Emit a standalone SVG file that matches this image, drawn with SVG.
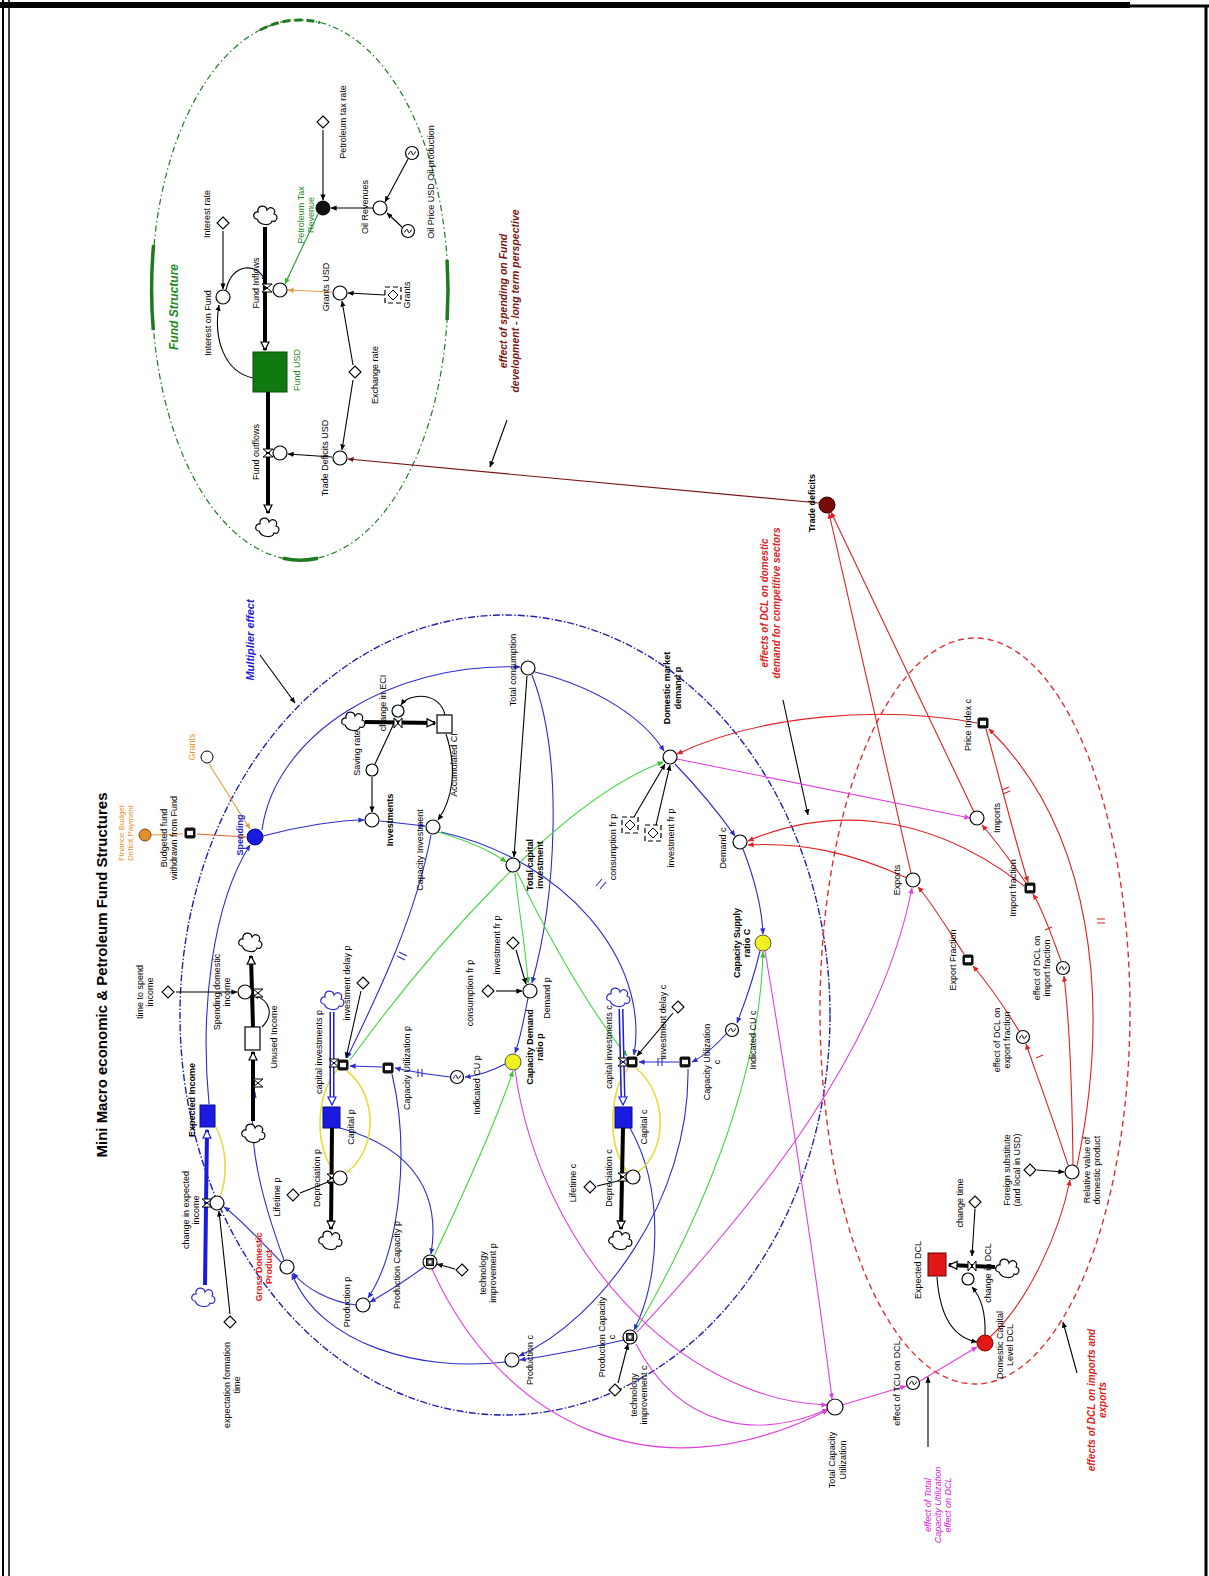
<svg xmlns="http://www.w3.org/2000/svg" xmlns:xlink="http://www.w3.org/1999/xlink" width="1209" height="1576" viewBox="0 0 1209 1576">
<style>
.t{font-family:"Liberation Sans",Arial,sans-serif;font-size:9px;fill:#000;text-anchor:middle}
.b{font-weight:bold}
.i{font-style:italic}
.lk{fill:none;stroke-width:1.1}
.k{stroke:#000}.bl{stroke:#2b2bd0}.rd{stroke:#e02020}.gr{stroke:#44d844}.mg{stroke:#e040e0}.yl{stroke:#e6dc3c;stroke-width:1.6}.or{stroke:#e89a40}.dr{stroke:#7a1414}
.pipe{fill:none;stroke:#000;stroke-width:4}
</style>
<defs>
<marker id="ak" viewBox="0 0 8 8" refX="7.5" refY="4" markerWidth="6" markerHeight="6" markerUnits="userSpaceOnUse" orient="auto"><path d="M0,0.5 L8,4 L0,7.5Z" fill="#000"/></marker>
<marker id="ab" viewBox="0 0 8 8" refX="7.5" refY="4" markerWidth="6" markerHeight="6" markerUnits="userSpaceOnUse" orient="auto"><path d="M0,0.5 L8,4 L0,7.5Z" fill="#2b2bd0"/></marker>
<marker id="ar" viewBox="0 0 8 8" refX="7.5" refY="4" markerWidth="6" markerHeight="6" markerUnits="userSpaceOnUse" orient="auto"><path d="M0,0.5 L8,4 L0,7.5Z" fill="#e02020"/></marker>
<marker id="ag" viewBox="0 0 8 8" refX="7.5" refY="4" markerWidth="6" markerHeight="6" markerUnits="userSpaceOnUse" orient="auto"><path d="M0,0.5 L8,4 L0,7.5Z" fill="#30c030"/></marker>
<marker id="am" viewBox="0 0 8 8" refX="7.5" refY="4" markerWidth="6" markerHeight="6" markerUnits="userSpaceOnUse" orient="auto"><path d="M0,0.5 L8,4 L0,7.5Z" fill="#e040e0"/></marker>
<marker id="ao" viewBox="0 0 8 8" refX="7.5" refY="4" markerWidth="6" markerHeight="6" markerUnits="userSpaceOnUse" orient="auto"><path d="M0,0.5 L8,4 L0,7.5Z" fill="#e89a40"/></marker>
<marker id="ad" viewBox="0 0 8 8" refX="7.5" refY="4" markerWidth="6" markerHeight="6" markerUnits="userSpaceOnUse" orient="auto"><path d="M0,0.5 L8,4 L0,7.5Z" fill="#7a1414"/></marker>
<marker id="ap" viewBox="0 0 10 10" refX="9" refY="5" markerWidth="10" markerHeight="10" markerUnits="userSpaceOnUse" orient="auto"><path d="M1,1 L9,5 L1,9Z" fill="#fff" stroke="#000" stroke-width="1.2"/></marker>
<marker id="apb" viewBox="0 0 10 10" refX="9" refY="5" markerWidth="10" markerHeight="10" markerUnits="userSpaceOnUse" orient="auto"><path d="M1,1 L9,5 L1,9Z" fill="#fff" stroke="#1a1ae0" stroke-width="1.2"/></marker>
<g id="cloud"><path d="M-8,4 C-13,4 -12,-4 -7,-3 C-8,-10 1,-11 2,-5 C5,-10 12,-6 9,-1 C14,0 12,8 7,6 C6,11 -5,11 -8,4Z" fill="#fff" stroke="#000" stroke-width="1.2"/></g>
<g id="cloudb"><path d="M-8,4 C-13,4 -12,-4 -7,-3 C-8,-10 1,-11 2,-5 C5,-10 12,-6 9,-1 C14,0 12,8 7,6 C6,11 -5,11 -8,4Z" fill="#fff" stroke="#2b2bd0" stroke-width="1.2"/></g>
<g id="valv"><path d="M-5,-4 L5,-4 L-5,4 L5,4Z" fill="#fff" stroke="#000" stroke-width="1"/></g>
<g id="valh"><path d="M-4,-5 L-4,5 L4,-5 L4,5Z" fill="#fff" stroke="#000" stroke-width="1"/></g>
<g id="dia"><path d="M0,-6 L6,0 L0,6 L-6,0Z" fill="#fff" stroke="#000" stroke-width="1.1"/></g>
<g id="aux"><circle r="7" fill="#fff" stroke="#000" stroke-width="1.2"/></g>
<g id="tilde"><circle r="6.5" fill="#fff" stroke="#000" stroke-width="1.2"/><path d="M-3.5,1.5 C-2,-3 0,-2 0,0 C0,2 2,3 3.5,-1.5" fill="none" stroke="#000" stroke-width="1"/></g>
<g id="conv"><rect x="-5.5" y="-5.5" width="11" height="11" rx="2" fill="#111"/><rect x="-3" y="-2.2" width="6" height="4.4" fill="#fff"/></g>
<g id="pcap"><circle r="7" fill="#fff" stroke="#000" stroke-width="1.2"/><rect x="-3.5" y="-3.5" width="7" height="7" fill="#444" stroke="#000"/><rect x="-1.5" y="-1.5" width="3" height="3" fill="#fff"/></g>
<g id="ghost"><rect x="-8" y="-8" width="16" height="16" fill="#fff" stroke="#000" stroke-width="1.2" stroke-dasharray="5 3"/><path d="M0,-5 L5,0 L0,5 L-5,0Z" fill="#fff" stroke="#000" stroke-width="1"/></g>
</defs>
<rect width="1209" height="1576" fill="#fff"/>
<g id="frame" stroke="#000" fill="none">
<line x1="0" y1="5" x2="1130" y2="5" stroke-width="6"/>
<line x1="1128" y1="6" x2="1209" y2="6" stroke-width="3"/>
<line x1="1206" y1="5" x2="1206" y2="1576" stroke-width="3"/>
<line x1="3" y1="0" x2="3" y2="1576" stroke-width="2"/>
<line x1="9" y1="0" x2="9" y2="1576" stroke-width="1.5"/>
</g>

<g id="boundaries" fill="none">
<ellipse cx="300" cy="290" rx="148" ry="270" stroke="#1f7a1f" stroke-width="1.2" stroke-dasharray="6 3 1.5 3"/>
<path d="M153.6,245 A148,270 0 0 0 153.3,330" stroke="#1f7a1f" stroke-width="3.5"/>
<path d="M283,558.2 A148,270 0 0 0 318,558.3" stroke="#1f7a1f" stroke-width="3.5"/>
<path d="M447.1,260 A148,270 0 0 1 447.1,320" stroke="#1f7a1f" stroke-width="3.5"/>
<path d="M260,30 A148,270 0 0 1 320,22.5" stroke="#1f7a1f" stroke-width="3" stroke-dasharray="8 4"/>
<ellipse cx="505" cy="1015" rx="325" ry="400" stroke="#2020b0" stroke-width="1.4" stroke-dasharray="7 2 1.5 2"/>
<ellipse cx="975" cy="1011" rx="155" ry="373" stroke="#e03030" stroke-width="1.4" stroke-dasharray="6 4"/>
</g>

<g id="connectors">
<path class="lk k" d="M223,231 L223,289" marker-end="url(#ak)"/>
<path class="lk k" d="M253,378 C225,372 213,340 219,305" marker-end="url(#ak)"/>
<path class="lk k" d="M226,290 C232,262 258,262 266,282" marker-end="url(#ak)"/>
<path class="lk k" d="M323,130 L323,200" marker-end="url(#ak)"/>
<path class="lk k" d="M373,208 L331,208" marker-end="url(#ak)"/>
<path class="lk k" d="M408,159 L385,202" marker-end="url(#ak)"/>
<path class="lk k" d="M402,227 L387,213" marker-end="url(#ak)"/>
<path class="lk" stroke="#2a9a2a" d="M318,214 L285,284" marker-end="url(#ag)"/>
<path class="lk k" d="M385,295 L348,293" marker-end="url(#ak)"/>
<path class="lk or" stroke-width="1.6" d="M332,292 L288,290" marker-end="url(#ao)"/>
<path class="lk k" d="M353,365 L342,301" marker-end="url(#ak)"/>
<path class="lk k" d="M353,380 L342,450" marker-end="url(#ak)"/>
<path class="lk k" d="M332,457 L288,454" marker-end="url(#ak)"/>
<path class="lk dr" d="M819,503 L348,459" marker-end="url(#ad)"/>
<path class="lk k" stroke-width="1.3" d="M260,655 L295,703" marker-end="url(#ak)"/>
<path class="lk k" stroke-width="1.3" d="M507,420 L490,467" marker-end="url(#ak)"/>
<path class="lk k" stroke-width="1.3" d="M783,700 L808,815" marker-end="url(#ak)"/>
<path class="lk k" stroke-width="1.3" d="M928,1447 L928,1377" marker-end="url(#ak)"/>
<path class="lk k" stroke-width="1.3" d="M1077,1373 L1063,1322" marker-end="url(#ak)"/>
<path class="lk or" stroke-width="1.6" d="M151,835 L183,834"/>
<path class="lk" stroke="#e06030" stroke-width="1.4" d="M197,834 L246,837" marker-end="url(#ao)"/>
<path class="lk or" d="M209,764 L250,829" marker-end="url(#ao)"/>
<path class="lk bl" d="M262,830 C275,735 390,662 520,667" marker-end="url(#ab)"/>
<path class="lk bl" d="M209,1104 C200,1010 212,905 250,845" marker-end="url(#ab)"/>
<path class="lk bl" d="M263,836 C300,826 340,820 364,820" marker-end="url(#ab)"/>
<path class="lk bl" d="M380,821 L425,826" marker-end="url(#ab)"/>
<path class="lk bl" d="M431,835 C415,920 375,1000 347,1058" marker-end="url(#ab)"/>
<path class="lk bl" d="M441,832 C565,860 650,960 634,1055" marker-end="url(#ab)"/>
<path class="lk bl" d="M535,672 C600,688 645,720 664,751" marker-end="url(#ab)"/>
<path class="lk bl" d="M532,675 C565,760 555,900 532,983" marker-end="url(#ab)"/>
<path class="lk bl" d="M675,764 C700,790 720,815 735,836" marker-end="url(#ab)"/>
<path class="lk bl" d="M743,849 C755,880 762,910 763,934" marker-end="url(#ab)"/>
<path class="lk bl" d="M760,951 C752,985 742,1010 737,1023" marker-end="url(#ab)"/>
<path class="lk bl" d="M726,1034 C712,1050 700,1058 692,1062" marker-end="url(#ab)"/>
<path class="lk bl" d="M679,1062 L639,1062" marker-end="url(#ab)"/>
<path class="lk bl" d="M528,998 C522,1030 518,1045 515,1053" marker-end="url(#ab)"/>
<path class="lk bl" d="M505,1064 C490,1072 475,1076 465,1077" marker-end="url(#ab)"/>
<path class="lk bl" d="M450,1077 C420,1074 405,1070 395,1068" marker-end="url(#ab)"/>
<path class="lk bl" d="M382,1067 L350,1066" marker-end="url(#ab)"/>
<path class="lk bl" d="M340,1128 C420,1150 440,1200 431,1254" marker-end="url(#ab)"/>
<path class="lk bl" d="M630,1128 C665,1190 660,1280 634,1330" marker-end="url(#ab)"/>
<path class="lk bl" d="M392,1074 C410,1150 400,1250 368,1298" marker-end="url(#ab)"/>
<path class="lk bl" d="M424,1267 C400,1285 382,1295 370,1302" marker-end="url(#ab)"/>
<path class="lk bl" d="M356,1305 C330,1302 305,1288 293,1273" marker-end="url(#ab)"/>
<path class="lk bl" d="M505,1362 C420,1372 320,1345 292,1274" marker-end="url(#ab)"/>
<path class="lk bl" d="M281,1262 C260,1240 236,1215 224,1207" marker-end="url(#ab)"/>
<path class="lk bl" d="M284,1260 C262,1200 246,1140 255,1092" marker-end="url(#ab)"/>
<path class="lk bl" d="M624,1340 C580,1350 540,1357 520,1360" marker-end="url(#ab)"/>
<path class="lk bl" d="M688,1069 C690,1200 600,1320 519,1356" marker-end="url(#ab)"/>
<g stroke="#2b2bd0" stroke-width="1.1">
<path d="M399,952 l8,4 M397,956 l8,4"/>
<path d="M596,886 l6,-7 M600,889 l6,-7"/>
<path d="M658,1058 l0,8 M662,1058 l0,8"/>
<path d="M418,1069 l0,8 M422,1069 l0,8"/>
</g>
<path class="lk gr" d="M350,1060 C430,950 560,800 663,762" marker-end="url(#ag)"/>
<path class="lk gr" d="M517,872 C550,940 590,1010 627,1056" marker-end="url(#ag)"/>
<path class="lk gr" d="M438,832 C465,840 490,850 506,862" marker-end="url(#ag)"/>
<path class="lk gr" d="M515,873 C520,920 526,950 528,983" marker-end="url(#ag)"/>
<path class="lk gr" d="M434,1256 C470,1180 500,1110 513,1071" marker-end="url(#ag)"/>
<path class="lk gr" d="M636,1330 C700,1220 760,1080 763,952" marker-end="url(#ag)"/>
<path class="lk k" d="M527,676 L514,857" marker-end="url(#ak)"/>
<path class="lk k" d="M446,734 C458,770 452,800 438,820" marker-end="url(#ak)"/>
<path class="lk k" d="M445,715 C440,692 410,692 401,705" marker-end="url(#ak)"/>
<path class="lk k" d="M375,764 L396,719" marker-end="url(#ak)"/>
<path class="lk k" d="M372,777 L372,812" marker-end="url(#ak)"/>
<path class="lk k" d="M176,992 L237,992" marker-end="url(#ak)"/>
<path class="lk k" d="M262,1027 C274,1015 271,1000 253,995" marker-end="url(#ak)"/>
<path class="lk k" d="M230,1314 L219,1211" marker-end="url(#ak)"/>
<path class="lk k" d="M300,1193 L333,1180" marker-end="url(#ak)"/>
<path class="lk k" d="M361,991 L346,1058" marker-end="url(#ak)"/>
<path class="lk k" d="M673,1013 L637,1056" marker-end="url(#ak)"/>
<path class="lk k" d="M496,991 L522,991" marker-end="url(#ak)"/>
<path class="lk k" d="M516,950 L526,984" marker-end="url(#ak)"/>
<path class="lk k" d="M634,817 L665,764" marker-end="url(#ak)"/>
<path class="lk k" d="M656,825 L670,765" marker-end="url(#ak)"/>
<path class="lk k" d="M455,1269 L437,1264" marker-end="url(#ak)"/>
<path class="lk k" d="M618,1383 L628,1344" marker-end="url(#ak)"/>
<path class="lk k" d="M597,1186 L626,1179" marker-end="url(#ak)"/>
<path class="lk k" d="M1037,1170 L1064,1172" marker-end="url(#ak)"/>
<path class="lk k" d="M975,1209 L972,1256" marker-end="url(#ak)"/>
<path class="lk k" d="M937,1277 C940,1320 955,1338 977,1342" marker-end="url(#ak)"/>
<path class="lk k" d="M985,1335 C986,1310 980,1296 972,1287" marker-end="url(#ak)"/>
<path class="lk rd" d="M990,1337 C1030,1300 1060,1230 1070,1180" marker-end="url(#ar)"/>
<path class="lk rd" d="M1068,1165 C1050,1110 1035,1070 1026,1044" marker-end="url(#ar)"/>
<path class="lk rd" d="M1019,1031 C1000,1000 985,980 973,966" marker-end="url(#ar)"/>
<path class="lk rd" d="M964,954 C945,925 930,900 918,887" marker-end="url(#ar)"/>
<path class="lk rd" d="M1073,1165 C1072,1080 1068,1010 1064,976" marker-end="url(#ar)"/>
<path class="lk rd" d="M1061,961 C1050,930 1040,905 1033,894" marker-end="url(#ar)"/>
<path class="lk rd" d="M1026,883 C1010,860 995,840 982,825" marker-end="url(#ar)"/>
<path class="lk rd" d="M1077,1166 C1112,1000 1092,830 989,729" marker-end="url(#ar)"/>
<path class="lk rd" d="M977,723 C880,705 760,715 677,754" marker-end="url(#ar)"/>
<path class="lk rd" d="M986,729 C1000,780 1015,840 1028,882" marker-end="url(#ar)"/>
<path class="lk rd" d="M1024,886 C920,805 820,810 748,841" marker-end="url(#ar)"/>
<path class="lk rd" d="M907,878 C850,852 800,842 748,845" marker-end="url(#ar)"/>
<path class="lk rd" d="M911,873 L829,513" marker-end="url(#ar)"/>
<path class="lk rd" d="M974,812 L831,512" marker-end="url(#ar)"/>
<g stroke="#e02020" stroke-width="1.1">
<path d="M1097,919 l8,0 M1097,923 l8,0"/>
<path d="M1002,790 l7,-3 M1003,794 l7,-3"/>
<path d="M1036,1058 l7,-3"/>
<path d="M1045,930 l7,-3"/>
</g>
<path class="lk mg" d="M677,759 L970,818" marker-end="url(#am)"/>
<path class="lk mg" d="M515,1070 C540,1250 680,1400 827,1405" marker-end="url(#am)"/>
<path class="lk mg" d="M765,951 C790,1100 820,1300 832,1399" marker-end="url(#am)"/>
<path class="lk mg" d="M432,1269 C500,1420 650,1500 828,1410" marker-end="url(#am)"/>
<path class="lk mg" d="M637,1332 C760,1200 880,1050 912,888" marker-end="url(#am)"/>
<path class="lk mg" d="M636,1344 C680,1430 760,1440 828,1409" marker-end="url(#am)"/>
<path class="lk mg" d="M842,1405 L906,1386" marker-end="url(#am)"/>
<path class="lk mg" d="M920,1381 L977,1347" marker-end="url(#am)"/>
<path class="lk yl" d="M347,1071 C378,1095 378,1150 346,1173"/>
<path class="lk yl" d="M334,1172 C312,1140 318,1090 338,1069"/>
<path class="lk yl" d="M636,1068 C668,1095 668,1150 638,1172"/>
<path class="lk yl" d="M627,1172 C605,1140 611,1090 628,1068"/>
<path class="lk yl" d="M216,1127 C228,1150 227,1180 220,1196"/>
</g>

<g id="fund-structure-title"><text class="t b i" style="font-size:12px;fill:#1f8a1f" transform="translate(178,307) rotate(-90)">Fund Structure</text></g>
<g id="interest-rate"><use href="#dia" x="223" y="223"/><text class="t" transform="translate(210,214) rotate(-90)">Interest rate</text></g>
<g id="interest-on-fund"><use href="#aux" x="223" y="297"/><text class="t" transform="translate(211,323) rotate(-90)">Interest on Fund</text></g>
<g id="fund-inflows">
<use href="#cloud" x="265" y="215"/>
<path class="pipe" d="M265,227 L265,350" marker-end="url(#ap)"/>
<use href="#valv" x="267" y="288"/>
<use href="#aux" x="280" y="290"/>
<text class="t" transform="translate(259,283) rotate(-90)">Fund Inflows</text></g>
<g id="fund-usd"><rect x="253" y="352" width="34" height="40" fill="#107a10" stroke="#0a4a0a"/><text class="t" style="fill:#1f8a1f" transform="translate(300,370) rotate(-90)">Fund USD</text></g>
<g id="fund-outflows">
<path class="pipe" d="M268,392 L268,513" marker-end="url(#ap)"/>
<use href="#valv" x="268" y="453"/>
<use href="#aux" x="280" y="453"/>
<use href="#cloud" x="267" y="527"/>
<text class="t" transform="translate(259,452) rotate(-90)">Fund outflows</text></g>
<g id="petroleum-tax-revenue"><circle cx="323" cy="208" r="7" fill="#111" stroke="#000"/><text class="t" style="fill:#1f8a1f" transform="translate(304,215) rotate(-90)"><tspan x="0" dy="0">Petroleum Tax</tspan><tspan x="0" dy="10">Revenue</tspan></text></g>
<g id="petroleum-tax-rate"><use href="#dia" x="323" y="122"/><text class="t" transform="translate(346,122) rotate(-90)">Petroleum tax rate</text></g>
<g id="oil-revenues"><use href="#aux" x="380" y="208"/><text class="t" transform="translate(368,207) rotate(-90)">Oil Revenues</text></g>
<g id="oil-price"><use href="#tilde" x="412" y="153"/></g>
<g id="oil-production"><use href="#tilde" x="408" y="231"/><text class="t" transform="translate(434,182) rotate(-90)">Oil Price USD     Oil production</text></g>
<g id="grants-usd"><use href="#aux" x="340" y="293"/><text class="t" transform="translate(329,287) rotate(-90)">Grants USD</text></g>
<g id="grants"><use href="#ghost" x="393" y="295"/><text class="t" transform="translate(410,295) rotate(-90)">Grants</text></g>
<g id="exchange-rate"><use href="#dia" x="355" y="372"/><text class="t" transform="translate(378,375) rotate(-90)">Exchange rate</text></g>
<g id="trade-deficits-usd"><use href="#aux" x="340" y="458"/><text class="t" transform="translate(328,458) rotate(-90)">Trade Deficits USD</text></g>
<g id="fund-note"><text class="t b i" style="font-size:10.5px;fill:#7a1414" transform="translate(507,301) rotate(-90)"><tspan x="0" dy="0">effect of spending on Fund</tspan><tspan x="0" dy="12">development - long term perspective</tspan></text></g>

<g id="title"><text class="t b" style="font-size:15px" transform="translate(107,975) rotate(-90)">Mini Macro economic &amp; Petroleum Fund Structures</text></g>
<g id="finance-budget-deficit"><circle cx="145" cy="835" r="6" fill="#e09030" stroke="#7a4a10"/><text class="t" style="font-size:8px;fill:#e8902a" transform="translate(124,833) rotate(-90)"><tspan x="0" dy="0">Finance Budget</tspan><tspan x="0" dy="9">Deficit Payment</tspan></text></g>
<g id="budget-fund"><use href="#conv" x="190" y="833"/><text class="t" transform="translate(167,838) rotate(-90)"><tspan x="0" dy="0">Budgeted fund</tspan><tspan x="0" dy="10">withdrawn from Fund</tspan></text></g>
<g id="spending"><circle cx="255" cy="837" r="8" fill="#1a1ae0" stroke="#0a0a80"/><text class="t b" style="fill:#2020d0" transform="translate(243,835) rotate(-90)">Spending</text></g>
<g id="grants-main"><circle cx="207" cy="757" r="6" fill="#fff" stroke="#000"/><text class="t" style="fill:#e8902a" transform="translate(195,747) rotate(-90)">Grants</text></g>
<g id="saving-rate"><circle cx="372" cy="770" r="6" fill="#fff" stroke="#000" stroke-width="1.2"/><text class="t" transform="translate(360,753) rotate(-90)">Saving rate</text></g>
<g id="investments"><use href="#aux" x="372" y="820"/><text class="t b" transform="translate(393,820) rotate(-90)">Investments</text></g>
<g id="change-eci">
<use href="#cloud" x="353" y="721"/>
<path class="pipe" d="M365,722 L435,723" marker-end="url(#ap)"/>
<use href="#valh" x="398" y="723"/>
<circle cx="398" cy="711" r="6" fill="#fff" stroke="#000" stroke-width="1.2"/>
<text class="t" transform="translate(386,703) rotate(-90)">change in ECI</text></g>
<g id="eci"><rect x="437" y="715" width="15" height="18" fill="#fff" stroke="#000" stroke-width="1.2"/><text class="t" transform="translate(457,765) rotate(-90)">Accumulated CI</text></g>
<g id="capacity-investment"><use href="#aux" x="433" y="827"/><text class="t" transform="translate(423,850) rotate(-90)">Capacity Investment</text></g>
<g id="time-to-spend"><use href="#dia" x="168" y="992"/><text class="t" transform="translate(143,992) rotate(-90)"><tspan x="0" dy="0">time to spend</tspan><tspan x="0" dy="10">income</tspan></text></g>
<g id="unused-income">
<use href="#cloud" x="250" y="942"/>
<use href="#cloud" x="253" y="1133"/>
<path class="pipe" d="M253,1121 L253,1052" marker-end="url(#ap)"/>
<path class="pipe" d="M253,1027 L251,956" marker-end="url(#ap)"/>
<use href="#valv" x="258" y="1083"/>
<use href="#valv" x="258" y="993"/>
<rect x="245" y="1027" width="15" height="23" fill="#fff" stroke="#000" stroke-width="1.2"/>
<text class="t" transform="translate(277,1037) rotate(-90)">Unused Income</text></g>
<g id="spending-domestic-income"><use href="#aux" x="245" y="992"/><text class="t" transform="translate(220,992) rotate(-90)"><tspan x="0" dy="0">Spending domestic</tspan><tspan x="0" dy="10">income</tspan></text></g>
<g id="expected-income">
<use href="#cloudb" x="203" y="1297"/>
<path fill="none" stroke="#1a1ae0" stroke-width="4" d="M205,1285 L207,1130" marker-end="url(#apb)"/>
<use href="#valv" x="207" y="1203"/>
<rect x="200" y="1105" width="15" height="22" fill="#1a1ae0" stroke="#0a0a80"/>
<text class="t b" transform="translate(195,1100) rotate(-90)">Expected Income</text></g>
<g id="change-expected-income"><use href="#aux" x="217" y="1203"/><text class="t" transform="translate(189,1210) rotate(-90)"><tspan x="0" dy="0">change in expected</tspan><tspan x="0" dy="10">income</tspan></text></g>
<g id="expectation-time"><use href="#dia" x="230" y="1322"/><text class="t" transform="translate(230,1385) rotate(-90)"><tspan x="0" dy="0">expectation formation</tspan><tspan x="0" dy="10">time</tspan></text></g>
<g id="gdp"><use href="#aux" x="287" y="1267"/><text class="t b" style="fill:#e02020" transform="translate(262,1267) rotate(-90)"><tspan x="0" dy="0">Gross Domestic</tspan><tspan x="0" dy="10">Product</tspan></text></g>

<g id="capital-p">
<use href="#cloudb" x="332" y="1000"/>
<path fill="none" stroke="#1a1ae0" stroke-width="5" d="M332,1012 L332,1100"/>
<path fill="none" stroke="#fff" stroke-width="2" d="M332,1012 L332,1098"/>
<path fill="none" stroke="none" d="M332,1090 L332,1105" marker-end="url(#apb)"/>
<use href="#valv" x="334" y="1063"/>
<rect x="323" y="1107" width="17" height="21" fill="#1a1ae0" stroke="#0a0a80"/>
<path class="pipe" d="M332,1128 L331,1229" marker-end="url(#ap)"/>
<use href="#valv" x="332" y="1178"/>
<use href="#cloud" x="330" y="1240"/>
<text class="t" transform="translate(354,1127) rotate(-90)">Capital p</text></g>
<g id="capital-investments-p"><use href="#conv" x="343" y="1065"/><text class="t" transform="translate(322,1052) rotate(-90)">capital investments p</text></g>
<g id="investment-delay-p"><use href="#dia" x="363" y="983"/><text class="t" transform="translate(350,983) rotate(-90)">investment delay p</text></g>
<g id="depreciation-p"><use href="#aux" x="340" y="1178"/><text class="t" transform="translate(320,1178) rotate(-90)">Depreciation p</text></g>
<g id="lifetime-p"><use href="#dia" x="293" y="1195"/><text class="t" transform="translate(280,1197) rotate(-90)">Lifetime p</text></g>
<g id="capacity-utilization-p"><use href="#conv" x="388" y="1068"/><text class="t" transform="translate(410,1068) rotate(-90)">Capacity Utilization p</text></g>
<g id="indicated-cu-p"><use href="#tilde" x="457" y="1077"/><text class="t" transform="translate(480,1085) rotate(-90)">Indicated CU p</text></g>
<g id="capacity-demand-ratio-p"><circle cx="513" cy="1062" r="8" fill="#f0f020" stroke="#555"/><text class="t b" transform="translate(533,1047) rotate(-90)"><tspan x="0" dy="0">Capacity Demand</tspan><tspan x="0" dy="10">ratio p</tspan></text></g>
<g id="demand-p"><use href="#aux" x="530" y="991"/><text class="t" transform="translate(550,998) rotate(-90)">Demand p</text></g>
<g id="consumption-fr-p"><use href="#dia" x="488" y="991"/><text class="t" transform="translate(473,993) rotate(-90)">consumption fr p</text></g>
<g id="investment-fr-p"><use href="#dia" x="513" y="943"/><text class="t" transform="translate(500,945) rotate(-90)">investment fr p</text></g>
<g id="total-capital-investment"><use href="#aux" x="513" y="865"/><text class="t b" transform="translate(533,865) rotate(-90)"><tspan x="0" dy="0">Total capital</tspan><tspan x="0" dy="10">investment</tspan></text></g>
<g id="total-consumption"><use href="#aux" x="528" y="668"/><text class="t" transform="translate(516,670) rotate(-90)">Total consumption</text></g>
<g id="domestic-market-demand-p"><use href="#aux" x="670" y="757"/><text class="t b" transform="translate(670,688) rotate(-90)"><tspan x="0" dy="0">Domestic market</tspan><tspan x="0" dy="11">demand p</tspan></text></g>
<g id="consumption-fr-p-ghost"><use href="#ghost" x="630" y="825"/><text class="t" transform="translate(616,847) rotate(-90)">consumption fr p</text></g>
<g id="investment-fr-p-ghost"><use href="#ghost" x="653" y="833"/><text class="t" transform="translate(674,838) rotate(-90)">investment fr p</text></g>
<g id="demand-c"><use href="#aux" x="740" y="842"/><text class="t" transform="translate(726,848) rotate(-90)">Demand c</text></g>
<g id="capacity-supply-ratio-c"><circle cx="763" cy="943" r="8" fill="#f0f020" stroke="#555"/><text class="t b" transform="translate(740,943) rotate(-90)"><tspan x="0" dy="0">Capacity Supply</tspan><tspan x="0" dy="10">ratio C</tspan></text></g>
<g id="indicated-cu-c"><use href="#tilde" x="732" y="1030"/><text class="t" transform="translate(756,1040) rotate(-90)">Indicated CU c</text></g>
<g id="capacity-utilization-c"><use href="#conv" x="685" y="1062"/><text class="t" transform="translate(710,1062) rotate(-90)"><tspan x="0" dy="0">Capacity Utilization</tspan><tspan x="0" dy="10">c</tspan></text></g>
<g id="capital-c">
<use href="#cloudb" x="618" y="997"/>
<path fill="none" stroke="#1a1ae0" stroke-width="5" d="M621,1009 L623,1100"/>
<path fill="none" stroke="#fff" stroke-width="2" d="M621,1009 L623,1098"/>
<path fill="none" stroke="none" d="M623,1090 L623,1105" marker-end="url(#apb)"/>
<use href="#valv" x="623" y="1062"/>
<rect x="615" y="1107" width="17" height="21" fill="#1a1ae0" stroke="#0a0a80"/>
<path class="pipe" d="M623,1128 L621,1229" marker-end="url(#ap)"/>
<use href="#valv" x="623" y="1177"/>
<use href="#cloud" x="620" y="1240"/>
<text class="t" transform="translate(647,1127) rotate(-90)">Capital c</text></g>
<g id="capital-investments-c"><use href="#conv" x="632" y="1062"/><text class="t" transform="translate(612,1047) rotate(-90)">capital investments c</text></g>
<g id="investment-delay-c"><use href="#dia" x="678" y="1007"/><text class="t" transform="translate(666,1022) rotate(-90)">investment delay c</text></g>
<g id="depreciation-c"><use href="#aux" x="633" y="1177"/><text class="t" transform="translate(612,1178) rotate(-90)">Depreciation c</text></g>
<g id="lifetime-c"><use href="#dia" x="590" y="1187"/><text class="t" transform="translate(576,1183) rotate(-90)">Lifetime c</text></g>
<g id="production-capacity-p"><use href="#pcap" x="430" y="1262"/><text class="t" transform="translate(400,1265) rotate(-90)">Production Capacity p</text></g>
<g id="technology-improvement-p"><use href="#dia" x="462" y="1270"/><text class="t" transform="translate(486,1273) rotate(-90)"><tspan x="0" dy="0">technology</tspan><tspan x="0" dy="10">improvement p</tspan></text></g>
<g id="production-p"><use href="#aux" x="363" y="1305"/><text class="t" transform="translate(350,1302) rotate(-90)">Production p</text></g>
<g id="production-c"><use href="#aux" x="512" y="1360"/><text class="t" transform="translate(533,1360) rotate(-90)">Production c</text></g>
<g id="production-capacity-c"><use href="#pcap" x="630" y="1337"/><text class="t" transform="translate(605,1337) rotate(-90)"><tspan x="0" dy="0">Production Capacity</tspan><tspan x="0" dy="10">c</tspan></text></g>
<g id="technology-improvement-c"><use href="#dia" x="615" y="1390"/><text class="t" transform="translate(637,1395) rotate(-90)"><tspan x="0" dy="0">technology</tspan><tspan x="0" dy="10">improvement c</tspan></text></g>
<g id="multiplier-note"><text class="t b i" style="font-size:11px;fill:#2020d0" transform="translate(254,640) rotate(-90)">Multiplier effect</text></g>

<g id="total-capacity-utilization"><circle cx="835" cy="1407" r="8" fill="#fff" stroke="#000" stroke-width="1.2"/><text class="t" transform="translate(835,1460) rotate(-90)"><tspan x="0" dy="0">Total Capacity</tspan><tspan x="0" dy="11">Utilization</tspan></text></g>
<g id="effect-tcu-dcl"><use href="#tilde" x="913" y="1383"/><text class="t" transform="translate(900,1383) rotate(-90)">effect of TCU on DCL</text></g>
<g id="tcu-note"><text class="t i" style="fill:#d020d0" transform="translate(931,1505) rotate(-90)"><tspan x="0" dy="0">effect of Total</tspan><tspan x="0" dy="10">Capacity Utilization</tspan><tspan x="0" dy="10">effect on DCL</tspan></text></g>
<g id="expected-dcl">
<use href="#cloud" x="1007" y="1268"/>
<path class="pipe" d="M995,1267 L949,1265" marker-end="url(#ap)"/>
<use href="#valh" x="972" y="1266"/>
<rect x="928" y="1253" width="18" height="23" fill="#e01818" stroke="#600"/>
<text class="t" transform="translate(921,1270) rotate(-90)">Expected DCL</text></g>
<g id="change-in-dcl"><circle cx="968" cy="1279" r="6" fill="#fff" stroke="#000" stroke-width="1.2"/><text class="t" transform="translate(991,1273) rotate(-90)">change in DCL</text></g>
<g id="change-time"><use href="#dia" x="975" y="1202"/><text class="t" transform="translate(963,1203) rotate(-90)">change time</text></g>
<g id="domestic-capital-level"><circle cx="985" cy="1343" r="8" fill="#e01818" stroke="#800"/><text class="t" transform="translate(1003,1345) rotate(-90)"><tspan x="0" dy="0">Domestic Capital</tspan><tspan x="0" dy="10">Level DCL</tspan></text></g>
<g id="foreign-substitute"><use href="#dia" x="1030" y="1170"/><text class="t" transform="translate(1010,1170) rotate(-90)"><tspan x="0" dy="0">Foreign substitute</tspan><tspan x="0" dy="10">(and local in USD)</tspan></text></g>
<g id="relative-value"><use href="#aux" x="1072" y="1172"/><text class="t" transform="translate(1090,1170) rotate(-90)"><tspan x="0" dy="0">Relative value of</tspan><tspan x="0" dy="10">domestic product</tspan></text></g>
<g id="effect-dcl-export"><use href="#tilde" x="1023" y="1037"/><text class="t" transform="translate(1000,1040) rotate(-90)"><tspan x="0" dy="0">effect of DCL on</tspan><tspan x="0" dy="10">export fraction</tspan></text></g>
<g id="effect-dcl-import"><use href="#tilde" x="1063" y="968"/><text class="t" transform="translate(1040,968) rotate(-90)"><tspan x="0" dy="0">effect of DCL on</tspan><tspan x="0" dy="10">import fraction</tspan></text></g>
<g id="export-fraction"><use href="#conv" x="968" y="960"/><text class="t" transform="translate(956,960) rotate(-90)">Export Fraction</text></g>
<g id="import-fraction"><use href="#conv" x="1030" y="888"/><text class="t" transform="translate(1016,888) rotate(-90)">Import fraction</text></g>
<g id="exports"><use href="#aux" x="913" y="880"/><text class="t" transform="translate(900,880) rotate(-90)">Exports</text></g>
<g id="imports"><use href="#aux" x="977" y="818"/><text class="t" transform="translate(1000,818) rotate(-90)">Imports</text></g>
<g id="price-index-c"><use href="#conv" x="983" y="723"/><text class="t" transform="translate(971,725) rotate(-90)">Price Index c</text></g>
<g id="trade-deficits"><circle cx="827" cy="505" r="8" fill="#7a0a0a" stroke="#300"/><text class="t b" transform="translate(815,503) rotate(-90)">Trade deficits</text></g>
<g id="dcl-demand-note"><text class="t b i" style="font-size:10px;fill:#e02020" transform="translate(768,603) rotate(-90)"><tspan x="0" dy="0">effects of DCL on domestic</tspan><tspan x="0" dy="12">demand for competitive sectors</tspan></text></g>
<g id="dcl-trade-note"><text class="t b i" style="font-size:10px;fill:#e02020" transform="translate(1095,1400) rotate(-90)"><tspan x="0" dy="0">effects of DCL on imports and</tspan><tspan x="0" dy="11">exports</tspan></text></g>
</svg>
